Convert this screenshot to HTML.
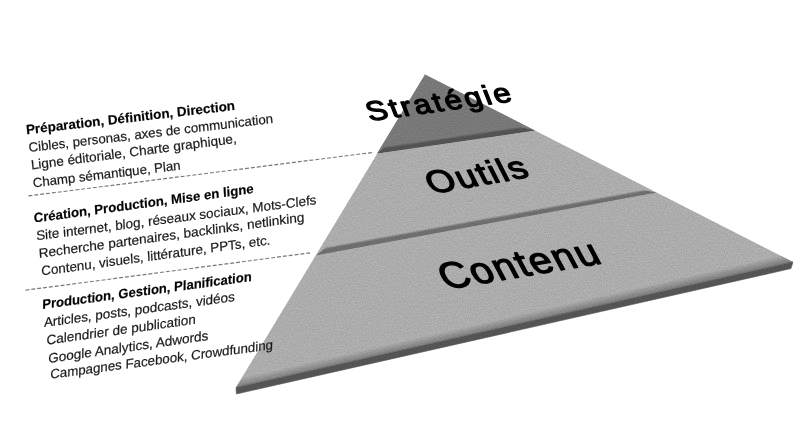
<!DOCTYPE html><html><head><meta charset="utf-8"><style>html,body{margin:0;padding:0;background:#fff}svg{display:block;will-change:transform;filter:grayscale(1)}text{font-family:"Liberation Sans",sans-serif}</style></head><body>
<svg width="794" height="446" viewBox="0 0 794 446">
<defs>
<linearGradient id="g1" gradientUnits="userSpaceOnUse" x1="456.0" y1="142.0" x2="455.1" y2="135.9"><stop offset="0" stop-color="#5a5a5a"/><stop offset="0.6" stop-color="#5a5a5a"/><stop offset="1" stop-color="#828282"/></linearGradient>
<linearGradient id="g2" gradientUnits="userSpaceOnUse" x1="486.2" y1="224.0" x2="485.1" y2="217.9"><stop offset="0" stop-color="#777777"/><stop offset="0.6" stop-color="#777777"/><stop offset="1" stop-color="#bababa"/></linearGradient>
<clipPath id="tri"><polygon points="425.0,74.4 236.0,387.5 793.0,262.0"/></clipPath>
<linearGradient id="g3" gradientUnits="userSpaceOnUse" x1="514.5" y1="324.8" x2="512.5" y2="316.0"><stop offset="0" stop-color="#848484"/><stop offset="1" stop-color="#bababa"/></linearGradient>
<filter id="nz" x="0" y="0" width="100%" height="100%" color-interpolation-filters="sRGB"><feTurbulence type="fractalNoise" baseFrequency="0.75" numOctaves="1" seed="7" result="n"/><feColorMatrix in="n" type="matrix" values="0 0 0 0 0  0 0 0 0 0  0 0 0 0 0  0.28 0 0 0 -0.07" result="a"/><feComposite in="a" in2="SourceGraphic" operator="in"/></filter>
</defs>
<polygon points="425.0,74.4 236.0,387.5 793.0,262.0" fill="#bababa"/>
<polygon points="425.0,74.4 377.0,153.5 535.0,130.5" fill="#828282"/>
<g clip-path="url(#tri)"><polygon points="377.0,153.5 535.0,130.5 518.3,126.7 386.0,145.9" fill="url(#g1)"/><polygon points="315.8,255.4 656.7,192.6 639.8,189.4 326.5,247.1" fill="url(#g2)"/>
<line x1="377.0" y1="154.4" x2="535.0" y2="131.4" stroke="#bababa" stroke-width="1.2"/>
<line x1="315.8" y1="256.3" x2="656.7" y2="193.5" stroke="#bababa" stroke-width="1.2"/>
<polygon points="236.0,387.5 793.0,262.0 810.5,248.8 214.5,383.1" fill="url(#g3)"/></g>
<polygon points="236.0,387.5 793.0,262.0 791,268.6 236.4,394.0" fill="#5b5b5b" stroke="#5b5b5b" stroke-width="0.6"/>
<polygon points="425.0,74.4 236.0,387.5 236.4,394 791,268.6 793.0,262.0" fill="#000" filter="url(#nz)"/>
<line x1="28.5" y1="195.9" x2="374.0" y2="152.3" stroke="#777" stroke-width="1.15" stroke-dasharray="3.9 2"/>
<line x1="25.5" y1="290.2" x2="310.5" y2="252.8" stroke="#777" stroke-width="1.15" stroke-dasharray="3.9 2"/>
<text transform="translate(26.4 134.2) rotate(-6.66) skewX(-1.5) scale(1.0214 1)" font-size="13.2" font-weight="bold" fill="#000" stroke="#1a1a1a" stroke-width="0.2">Préparation, Définition, Direction</text>
<text transform="translate(28.9 152.1) rotate(-6.81) skewX(-1.5) scale(1.0088 1)" font-size="13.2" font-weight="normal" fill="#1a1a1a" stroke="#1a1a1a" stroke-width="0.2">Cibles, personas, axes de communication</text>
<text transform="translate(31.4 169.5) rotate(-7.38) skewX(-1.5) scale(1.0240 1)" font-size="13.2" font-weight="normal" fill="#1a1a1a" stroke="#1a1a1a" stroke-width="0.2">Ligne éditoriale, Charte graphique,</text>
<text transform="translate(33.2 187.4) rotate(-6.87) skewX(-1.5) scale(1.0047 1)" font-size="13.2" font-weight="normal" fill="#1a1a1a" stroke="#1a1a1a" stroke-width="0.2">Champ sémantique, Plan</text>
<text transform="translate(33.9 222.6) rotate(-7.67) skewX(-4.5) scale(1.0060 1)" font-size="13.2" font-weight="bold" fill="#000" stroke="#1a1a1a" stroke-width="0.2">Création, Production, Mise en ligne</text>
<text transform="translate(36.4 240.3) rotate(-7.34) skewX(-4.5) scale(1.0247 1)" font-size="13.2" font-weight="normal" fill="#1a1a1a" stroke="#1a1a1a" stroke-width="0.2">Site internet, blog, réseaux sociaux, Mots-Clefs</text>
<text transform="translate(39.0 257.9) rotate(-7.83) skewX(-4.5) scale(1.0379 1)" font-size="13.2" font-weight="normal" fill="#1a1a1a" stroke="#1a1a1a" stroke-width="0.2">Recherche partenaires, backlinks, netlinking</text>
<text transform="translate(41.5 275.5) rotate(-7.73) skewX(-4.5) scale(1.0208 1)" font-size="13.2" font-weight="normal" fill="#1a1a1a" stroke="#1a1a1a" stroke-width="0.2">Contenu, visuels, littérature, PPTs, etc.</text>
<text transform="translate(42.2 309.0) rotate(-7.62) skewX(-8.5) scale(0.9972 1)" font-size="13.2" font-weight="bold" fill="#000" stroke="#1a1a1a" stroke-width="0.2">Production, Gestion, Planification</text>
<text transform="translate(43.9 327.1) rotate(-7.79) skewX(-8.5) scale(1.0258 1)" font-size="13.2" font-weight="normal" fill="#1a1a1a" stroke="#1a1a1a" stroke-width="0.2">Articles, posts, podcasts, vidéos</text>
<text transform="translate(46.4 344.7) rotate(-8.01) skewX(-8.5) scale(1.0328 1)" font-size="13.2" font-weight="normal" fill="#1a1a1a" stroke="#1a1a1a" stroke-width="0.2">Calendrier de publication</text>
<text transform="translate(48.2 362.9) rotate(-8.11) skewX(-8.5) scale(1.0351 1)" font-size="13.2" font-weight="normal" fill="#1a1a1a" stroke="#1a1a1a" stroke-width="0.2">Google Analytics, Adwords</text>
<text transform="translate(50.2 378.7) rotate(-7.57) skewX(-8.5) scale(1.0148 1)" font-size="13.2" font-weight="normal" fill="#1a1a1a" stroke="#1a1a1a" stroke-width="0.2">Campagnes Facebook, Crowdfunding</text>
<text transform="translate(370.0 120.9) rotate(-7.86) skewX(13.5) scale(1.12 1)" font-size="27.5" font-weight="normal" fill="#000" letter-spacing="2.41" stroke="#000" stroke-width="1.3" stroke-linejoin="round">Stratégie</text>
<text transform="translate(432.0 194.0) rotate(-9.97) skewX(17) scale(1.1 1)" font-size="32.5" font-weight="normal" fill="#000" letter-spacing="1.66" stroke="#000" stroke-width="1.3" stroke-linejoin="round">Outils</text>
<text transform="translate(446.5 289.4) rotate(-9.55) skewX(18.5) scale(1.04 1)" font-size="38" font-weight="normal" fill="#000" letter-spacing="1.57" stroke="#000" stroke-width="1.3" stroke-linejoin="round">Contenu</text>
</svg></body></html>
